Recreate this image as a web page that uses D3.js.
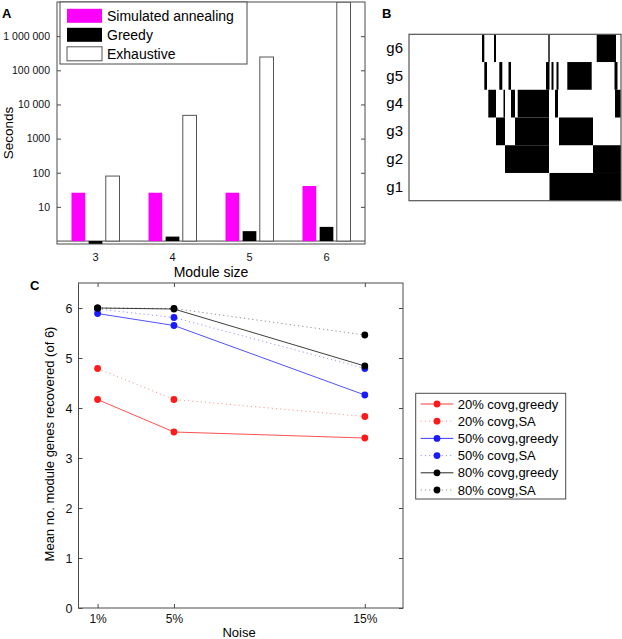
<!DOCTYPE html>
<html><head><meta charset="utf-8">
<script src="https://cdn.jsdelivr.net/npm/d3@7"></script>
<style>
html,body{margin:0;padding:0;background:#fff;}
svg{display:block;font-family:"Liberation Sans",Arial,Helvetica,sans-serif;}
</style></head>
<body>
<svg id="fig" width="622" height="639"></svg>
<script>
// ---------- Panel A data ----------
const moduleSizes = ['3','4','5','6'];
const algorithms = ['Simulated annealing','Greedy','Exhaustive'];
const saSeconds = [26, 26, 26, 41];
const greedySeconds = [0.8, 1.35, 1.95, 2.6];
const exhaustiveSeconds = [80, 4800, 245000, 3e7];
const secTicks = [10, 100, 1000, 10000, 100000, 1000000];
const secTickLabels = ['10','100','1000','10 000','100 000','1 000 000'];

// ---------- Panel B data (black runs per gene, column units) ----------
const genes = ['g6','g5','g4','g3','g2','g1'];
const nCols = 212;
const g6Runs = [[73,75.3],[85,87],[139.3,140.7],[187.7,207]];
const g5Runs = [[75.3,78],[90.3,93.3],[99.5,102],[137,140.5],[142.5,144.5],[147.5,149.5],[158.3,182.7],[205.5,208.5]];
const g4Runs = [[79.3,87],[94.5,96],[102,106],[108.7,140],[146,149],[206,211.7]];
const g3Runs = [[87,96],[106,140],[150,184]];
const g2Runs = [[96,140],[184,212]];
const g1Runs = [[140.5,212]];

// ---------- Panel C data ----------
const noiseLevels = [1, 5, 15];
const noiseLabels = ['1%','5%','15%'];
const recTicks = [0,1,2,3,4,5,6];
const greedy20 = [4.17, 3.52, 3.40];
const sa20 = [4.79, 4.17, 3.83];
const greedy50 = [5.89, 5.65, 4.26];
const sa50 = [5.98, 5.81, 4.79];
const greedy80 = [6.00, 5.98, 4.84];
const sa80 = [6.00, 5.99, 5.46];
const seriesNames = ['20% covg,greedy','20% covg,SA','50% covg,greedy','50% covg,SA','80% covg,greedy','80% covg,SA'];
const seriesColors = ['#ff1a1a','#ff1a1a','#1a1aff','#1a1aff','#000000','#000000'];

const svg = d3.select('#fig');
const axisColor = '#4a4a4a';

// ======================= PANEL A =======================
(function(){
  const L=57, R=365, T=2, B=244;
  const g = svg.append('g');
  const x = d3.scaleBand().domain(moduleSizes).range([L,R]).padding(0);
  const x1 = d3.scaleBand().domain(algorithms).range([-24,24]).paddingInner(0.2);
  const y = d3.scaleLog().domain([0.82, 1e7]).range([B,T]).clamp(true);
  const colors = {'Simulated annealing':'#ff00ff','Greedy':'#000000','Exhaustive':'#ffffff'};
  const vals = {'Simulated annealing':saSeconds,'Greedy':greedySeconds,'Exhaustive':exhaustiveSeconds};

  svg.append('clipPath').attr('id','clipA').append('rect').attr('x',L).attr('y',T).attr('width',R-L).attr('height',B-T);
  const plot = g.append('g').attr('clip-path','url(#clipA)');
  // baseline at 1
  plot.append('line').attr('x1',L).attr('x2',R).attr('y1',y(1)).attr('y2',y(1)).attr('stroke',axisColor).attr('stroke-width',1);
  algorithms.forEach(a=>{
    plot.selectAll(null).data(moduleSizes.map((m,i)=>({m,v:vals[a][i]}))).enter().append('rect')
      .attr('x',d=>x(d.m)+x.bandwidth()/2+x1(a))
      .attr('width',x1.bandwidth())
      .attr('y',d=>Math.min(y(d.v),y(1)))
      .attr('height',d=>Math.abs(y(1)-y(d.v)))
      .attr('fill',colors[a])
      .attr('stroke',a==='Exhaustive'?'#555':'none')
      .attr('stroke-width',1);
  });
  // axes
  const yl = d3.axisLeft(y).tickValues(secTicks).tickSize(-4).tickPadding(7).tickFormat((d,i)=>secTickLabels[i]);
  const ga = g.append('g').attr('transform',`translate(${L},0)`).call(yl);
  const yr = d3.axisRight(y).tickValues(secTicks).tickSize(-4).tickFormat('');
  const gb = g.append('g').attr('transform',`translate(${R},0)`).call(yr);
  const xb = d3.axisBottom(x).tickSize(0).tickPadding(9);
  const gc = g.append('g').attr('transform',`translate(0,${B})`).call(xb);
  [ga,gb,gc].forEach(s=>{s.select('.domain').remove(); s.selectAll('line').attr('stroke',axisColor); s.selectAll('text').attr('font-size',10.5).attr('fill','#111').attr('font-family','Liberation Sans, Arial, sans-serif');});
  gc.selectAll('text').attr('font-size',11);
  g.append('rect').attr('x',L).attr('y',T).attr('width',R-L).attr('height',B-T).attr('fill','none').attr('stroke',axisColor);
  g.append('text').attr('transform',`translate(13,${(T+B)/2+10}) rotate(-90)`).attr('text-anchor','middle').attr('font-size',13.5).text('Seconds');
  g.append('text').attr('x',(L+R)/2).attr('y',277).attr('text-anchor','middle').attr('font-size',14).text('Module size');
  // legend
  const lg = g.append('g');
  lg.append('rect').attr('x',60).attr('y',2).attr('width',187).attr('height',62).attr('fill','#fff').attr('stroke',axisColor);
  algorithms.forEach((a,i)=>{
    const cy = 15.8 + i*19;
    lg.append('rect').attr('x',67).attr('y',cy-7).attr('width',35).attr('height',14).attr('fill',colors[a]).attr('stroke',a==='Exhaustive'?'#555':'none');
    lg.append('text').attr('x',107).attr('y',cy).attr('dy','0.36em').attr('font-size',14).text(a);
  });
  svg.append('text').attr('x',2).attr('y',18).attr('font-weight','bold').attr('font-size',13).text('A');
})();

// ======================= PANEL B =======================
(function(){
  const L=409, R=621, T=34.3, B=200.7;
  const g = svg.append('g');
  const x = d3.scaleLinear().domain([0,nCols]).range([L,R]);
  const y = d3.scaleBand().domain(genes).range([T,B]);
  const runs = [g6Runs,g5Runs,g4Runs,g3Runs,g2Runs,g1Runs];
  g.append('rect').attr('x',L).attr('y',T).attr('width',R-L).attr('height',B-T).attr('fill','#fff');
  genes.forEach((gn,i)=>{
    g.selectAll(null).data(runs[i]).enter().append('rect')
      .attr('x',d=>x(d[0])).attr('width',d=>x(d[1])-x(d[0]))
      .attr('y',y(gn)).attr('height',y.bandwidth())
      .attr('fill','#000');
  });
  g.append('rect').attr('x',L).attr('y',T).attr('width',R-L).attr('height',B-T).attr('fill','none').attr('stroke','#555').attr('stroke-width',1.2);
  g.selectAll('.glab').data(genes).enter().append('text')
    .attr('x',403).attr('y',d=>y(d)+y.bandwidth()/2).attr('dy','0.32em').attr('text-anchor','end').attr('font-size',15).text(d=>d);
  svg.append('text').attr('x',382).attr('y',18).attr('font-weight','bold').attr('font-size',13).text('B');
})();

// ======================= PANEL C =======================
(function(){
  const L=78.5, R=403, T=283, B=608;
  const g = svg.append('g');
  const x = d3.scaleLinear().domain([0,17]).range([L,R]);
  const y = d3.scaleLinear().domain([0,6.5]).range([B,T]);
  g.append('rect').attr('x',L).attr('y',T).attr('width',R-L).attr('height',B-T).attr('fill','#fff');
  const axL = g.append('g').attr('transform',`translate(${L},0)`).call(d3.axisLeft(y).tickValues(recTicks).tickSize(-4).tickPadding(6).tickFormat(d3.format('d')));
  const axR = g.append('g').attr('transform',`translate(${R},0)`).call(d3.axisRight(y).tickValues(recTicks).tickSize(-4).tickFormat(''));
  const axB = g.append('g').attr('transform',`translate(0,${B})`).call(d3.axisBottom(x).tickValues(noiseLevels).tickSize(-4).tickPadding(6).tickFormat((d,i)=>noiseLabels[i]));
  const axT = g.append('g').attr('transform',`translate(0,${T})`).call(d3.axisTop(x).tickValues(noiseLevels).tickSize(-4).tickFormat(''));
  [axL,axR,axB,axT].forEach(s=>{s.select('.domain').remove(); s.selectAll('line').attr('stroke',axisColor); s.selectAll('text').attr('font-size',12.5).attr('fill','#111').attr('font-family','Liberation Sans, Arial, sans-serif');});
  axB.selectAll('text').attr('font-size',12);
  g.append('rect').attr('x',L).attr('y',T).attr('width',R-L).attr('height',B-T).attr('fill','none').attr('stroke',axisColor);

  const data = [greedy20, sa20, greedy50, sa50, greedy80, sa80];
  const line = d3.line().x((d,i)=>x(noiseLevels[i])).y(d=>y(d));
  data.forEach((s,k)=>{
    const dotted = k%2===1;
    g.append('path').attr('d',line(s)).attr('fill','none')
      .attr('stroke',seriesColors[k]).attr('stroke-width',dotted?1:0.9)
      .attr('stroke-opacity',dotted?0.45:0.85)
      .attr('stroke-dasharray',dotted?'1.2,3':null);
  });
  data.forEach((s,k)=>{
    g.selectAll(null).data(s).enter().append('circle')
      .attr('cx',(d,i)=>x(noiseLevels[i])).attr('cy',d=>y(d)).attr('r',3.4).attr('fill',seriesColors[k]);
  });
  g.append('text').attr('transform',`translate(54,444) rotate(-90)`).attr('text-anchor','middle').attr('font-size',13).text('Mean no. module genes recovered (of 6)');
  g.append('text').attr('x',239).attr('y',637).attr('text-anchor','middle').attr('font-size',13).text('Noise');
  // legend
  const lg = g.append('g');
  lg.append('rect').attr('x',415.7).attr('y',393.3).attr('width',150).attr('height',105.7).attr('fill','#fff').attr('stroke',axisColor);
  seriesNames.forEach((nm,k)=>{
    const cy = 404 + k*17.2;
    const dotted = k%2===1;
    lg.append('line').attr('x1',420.7).attr('x2',453.3).attr('y1',cy).attr('y2',cy)
      .attr('stroke',seriesColors[k]).attr('stroke-width',1)
      .attr('stroke-opacity',dotted?0.45:0.85)
      .attr('stroke-dasharray',dotted?'1.2,3':null);
    lg.append('circle').attr('cx',437).attr('cy',cy).attr('r',3.4).attr('fill',seriesColors[k]);
    lg.append('text').attr('x',457.7).attr('y',cy).attr('dy','0.36em').attr('font-size',13).text(nm);
  });
  svg.append('text').attr('x',30).attr('y',290).attr('font-weight','bold').attr('font-size',13).text('C');
})();
</script>
</body></html>
